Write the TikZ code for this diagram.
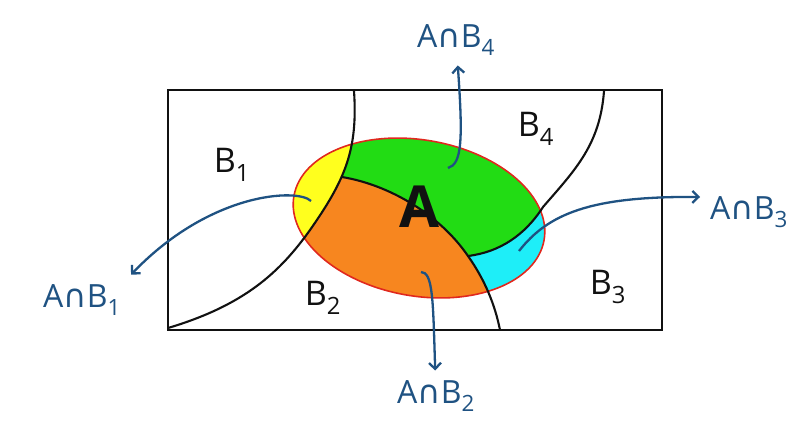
\documentclass[tikz,border=0pt]{standalone}
\usepackage{fontspec}
\setmainfont{Open Sans}
\newfontfamily\capfont{DejaVu Sans}
\usetikzlibrary{arrows.meta,calc,positioning}
\definecolor{ink}{HTML}{111111}
\definecolor{pen}{HTML}{1F5282}
\definecolor{rim}{HTML}{E0281E}
\definecolor{sunny}{HTML}{FFFF1E}
\definecolor{leaf}{HTML}{22DC14}
\definecolor{tang}{HTML}{F7861F}
\definecolor{aqua}{HTML}{1EEEF8}
\newcommand{\AB}[1]{A{\capfont ∩}B\textsubscript{#1}}
\newcommand{\leftcut}{(354,91) .. controls (358,150) and (345,180) .. (310,230)
  .. controls (280,272) and (245,305) .. (168,328)}
\newcommand{\midcut}{(342,177) .. controls (390,185) and (440,215) .. (468,256)
  .. controls (485,280) and (495,305) .. (500,330)}
\newcommand{\rightcut}{(604,91) .. controls (600,145) and (575,170) .. (543,207)
  .. controls (525,235) and (500,252) .. (468,256)}
\tikzset{
  >={Straight Barb[length=6pt,width=12pt]},
  arrow/.style={->,line width=2.3pt,draw=pen},
  border/.style={draw=ink,line width=2.1pt},
  blob/.style={rotate around={-10:(419,218)}},
  setlabel/.style={text=ink,font=\fontsize{34}{34}\selectfont,inner sep=0pt},
  cutlabel/.style={text=pen,font=\fontsize{32}{32}\selectfont,inner sep=10pt}
}
\begin{document}
\begin{tikzpicture}[x=1pt,y=-1pt]
  \useasboundingbox (0,0) rectangle (810,426);
  % the four pieces of A
  \begin{scope}
    \clip[blob] (419,218) ellipse [x radius=127,y radius=78];
    \fill[leaf] (150,80) rectangle (700,340);
    \fill[aqua] \rightcut -- (440,290) -- (440,340) -- (700,340) -- (700,91) -- cycle;
    \fill[tang] \midcut -- (500,400) -- (200,400) -- (200,177) -- cycle;
    \fill[sunny] \leftcut -- (100,330) -- (100,91) -- cycle;
  \end{scope}
  \draw[rim,line width=1.6pt,blob] (419,218) ellipse [x radius=127,y radius=78];

  % the sets B
  \draw[border] (168,90) rectangle (662,330);
  \draw[border] \leftcut;
  \draw[border] \midcut;
  \draw[border] \rightcut;

  \node[setlabel] (b1) at (232,165) {B\textsubscript{1}};
  \node[setlabel] (b2) at (323,298) {B\textsubscript{2}};
  \node[setlabel] (b3) at (608,287) {B\textsubscript{3}};
  \node[setlabel] (b4) at (536,129) {B\textsubscript{4}};
  \node[text=ink,font=\bfseries\fontsize{58}{58}\selectfont,inner sep=0pt] (a) at (420,207) {A};

  % intersections
  \node[cutlabel] (ab4) at (456,40) {\AB{4}};
  \node[cutlabel,anchor=west] (ab3) at (700,212) {\AB{3}};
  \node[cutlabel] (ab1) at (82,300) {\AB{1}};
  \node[cutlabel] (ab2) at (436,396) {\AB{2}};

  \coordinate (s4) at (448,168);
  \coordinate (s3) at (519,251);
  \coordinate (s1) at (311,201);
  \coordinate (s2) at (421,272);

  \draw[arrow] (s4) .. controls (462,164) and (463,140) .. (ab4);
  \draw[arrow] (s3) .. controls (548,214) and (590,196) .. (ab3.163);
  \draw[arrow] (s1) .. controls (298,188) and (210,192) .. (ab1.north east);
  \draw[arrow] (s2) .. controls (433,272) and (433,300) .. (ab2);
\end{tikzpicture}
\end{document}
